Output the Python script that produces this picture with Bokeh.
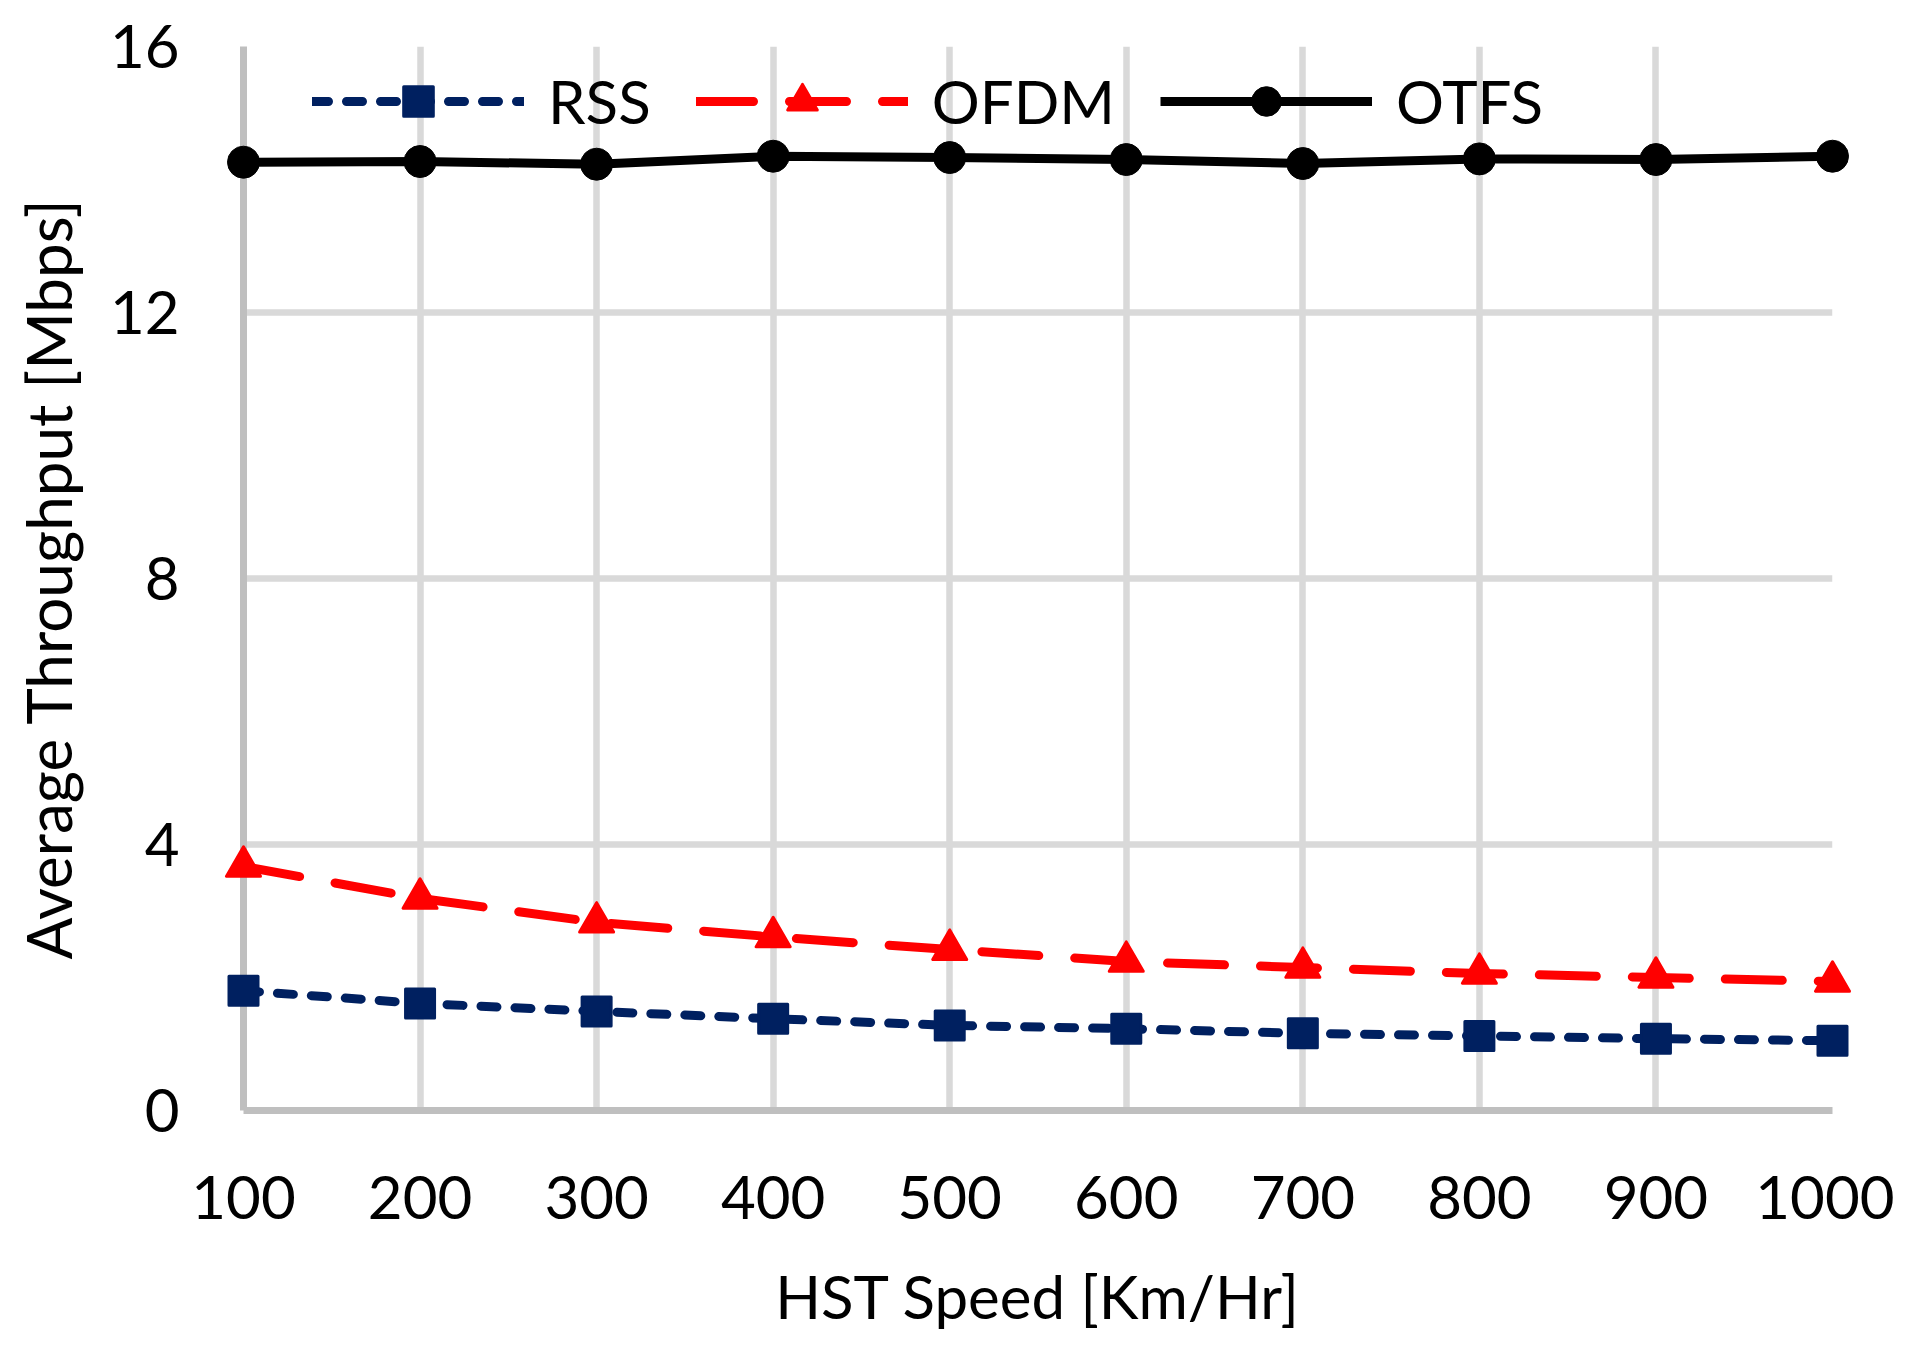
from bokeh.plotting import figure
from bokeh.models import Range1d, FixedTicker, Legend, LegendItem
from bokeh.embed import file_html
from bokeh.resources import INLINE

# ---- data ----
speed = [100, 200, 300, 400, 500, 600, 700, 800, 900, 1000]
rss = [1.80, 1.61, 1.49, 1.38, 1.28, 1.23, 1.16, 1.12, 1.08, 1.05]
ofdm = [3.67, 3.19, 2.83, 2.61, 2.42, 2.24, 2.15, 2.06, 2.00, 1.94]
otfs = [14.26, 14.27, 14.23, 14.35, 14.33, 14.30, 14.24, 14.31, 14.30, 14.35]
y_ticks = [0, 4, 8, 12, 16]
series_names = ["RSS", "OFDM", "OTFS"]
x_title = "HST Speed [Km/Hr]"
y_title = "Average Throughput [Mbps]"

FONT = "Lato"
FS = "60px"

p = figure(width=1894, height=1341, output_backend="svg", toolbar_location=None,
           x_range=Range1d(100, 1000), y_range=Range1d(0, 16),
           min_border_left=243, min_border_right=62, min_border_top=46,
           min_border_bottom=231)
p.outline_line_color = None
p.background_fill_color = "white"
p.border_fill_color = "white"

# axes
p.xaxis.ticker = FixedTicker(ticks=speed)
p.yaxis.ticker = FixedTicker(ticks=y_ticks)
for ax in (p.xaxis[0], p.yaxis[0]):
    ax.axis_line_color = "#BFBFBF"
    ax.axis_line_width = 7
    ax.major_tick_line_color = None
    ax.minor_tick_line_color = None
    ax.major_label_text_font = FONT
    ax.major_label_text_font_size = FS
    ax.major_label_text_color = "black"
    ax.axis_label_text_font = FONT
    ax.axis_label_text_font_size = FS
    ax.axis_label_text_font_style = "normal"
    ax.axis_label_text_color = "black"
p.xaxis.axis_label = x_title
p.yaxis.axis_label = y_title
p.yaxis.axis_label_text_font_size = "62px"
p.xaxis.major_label_standoff = 59
p.xaxis.axis_label_standoff = 38
p.yaxis.major_label_standoff = 58
p.yaxis.axis_label_standoff = 22

# grid
for g in (p.xgrid[0], p.ygrid[0]):
    g.grid_line_color = "#D9D9D9"
    g.grid_line_width = 6.5

# series
r_rss_l = p.line(speed, rss, line_color="#002060", line_width=9, line_dash="16 18",
                 line_cap="round", level="overlay")
r_rss_m = p.scatter(speed, rss, marker="square", size=29, fill_color="#002060",
                    line_color="#002060", line_width=3, line_join="round", level="overlay")
r_ofdm_l = p.line(speed, ofdm, line_color="#FF0000", line_width=9, line_dash="57 36",
                  line_cap="round", level="overlay")
r_ofdm_m = p.scatter(speed, ofdm, marker="triangle", size=34, fill_color="#FF0000",
                     line_color="#FF0000", line_width=3, line_join="round", level="overlay")
r_otfs_l = p.line(speed, otfs, line_color="black", line_width=9, level="overlay")
r_otfs_m = p.scatter(speed, otfs, marker="circle", size=32, fill_color="black",
                     line_color="black", line_width=1, level="overlay")

legend = Legend(items=[
    LegendItem(label=series_names[0], renderers=[r_rss_l, r_rss_m]),
    LegendItem(label=series_names[1], renderers=[r_ofdm_l, r_ofdm_m]),
    LegendItem(label=series_names[2], renderers=[r_otfs_l, r_otfs_m]),
], orientation="horizontal", location=(69, 972))
legend.glyph_width = 212
legend.glyph_height = 74
legend.label_standoff = 24
legend.spacing = 45
legend.padding = 0
legend.margin = 0
legend.border_line_color = None
legend.background_fill_alpha = 0
legend.label_text_font = FONT
legend.label_text_font_size = FS
legend.label_text_color = "black"
legend.label_height = 74
p.add_layout(legend, "center")

open("out.html", "w").write(file_html(p, INLINE))
